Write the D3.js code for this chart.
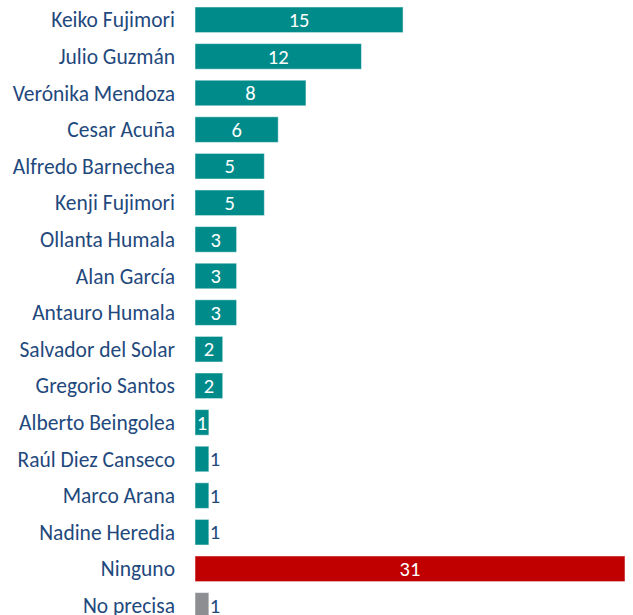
<!DOCTYPE html>
<html>
<head>
<meta charset="utf-8">
<script src="https://cdn.jsdelivr.net/npm/d3@7"></script>
<style>
  body { margin: 0; background: #fff; }
  text { font-family: Carlito, Calibri, "Open Sans", sans-serif; }
</style>
</head>
<body>
<div id="chart"></div>
<script>
var names = ["Keiko Fujimori", "Julio Guzmán", "Verónika Mendoza", "Cesar Acuña", "Alfredo Barnechea",
	"Kenji Fujimori", "Ollanta Humala", "Alan García", "Antauro Humala", "Salvador del Solar",
	"Gregorio Santos", "Alberto Beingolea", "Raúl Diez Canseco", "Marco Arana", "Nadine Heredia",
	"Ninguno", "No precisa"];
var values = [15, 12, 8, 6, 5, 5, 3, 3, 3, 2, 2, 1, 1, 1, 1, 31, 1];
// which value labels sit inside the bar
var insideLabel = [true, true, true, true, true, true, true, true, true, true, true, true, false, false, false, true, false];

var width = 633,
	height = 615,
	barStart = 195;

var teal = "#008b8b",
	red = "#c00000",
	grey = "#8c8e91",
	textColor = "#1f497d";

function barColor(name) {
	if (name == "Ninguno") return red;
	if (name == "No precisa") return grey;
	return teal;
}

var svg = d3.select("#chart")
	.append("svg")
	.attr("width", width)
	.attr("height", height);

var x = d3.scaleLinear().domain([0, 31]).range([barStart, 625]);
var y = d3.scaleBand().domain(names).range([1.5, 623.7]).paddingInner(0.3).paddingOuter(0.15);

var rows = svg.selectAll("g.row")
	.data(names)
	.enter()
	.append("g")
	.attr("class", "row");

rows.append("rect")
	.attr("x", x(0))
	.attr("y", d => y(d))
	.attr("width", (d, i) => x(values[i]) - x(0))
	.attr("height", y.bandwidth())
	.attr("fill", d => barColor(d))
	.attr("stroke", "#ffffff")
	.attr("stroke-opacity", 0.5)
	.attr("stroke-width", 1);

rows.append("text")
	.attr("x", 175)
	.attr("y", d => y(d) + y.bandwidth() / 2)
	.attr("dy", "0.35em")
	.attr("text-anchor", "end")
	.attr("font-size", 21.5)
	.attr("fill", textColor)
	.text(d => d);

rows.append("text")
	.attr("x", (d, i) => insideLabel[i] ? (x(0) + x(values[i])) / 2 : x(values[i]) + 1)
	.attr("y", d => y(d) + y.bandwidth() / 2)
	.attr("dy", "0.35em")
	.attr("text-anchor", (d, i) => insideLabel[i] ? "middle" : "start")
	.attr("font-size", 20.5)
	.attr("fill", (d, i) => insideLabel[i] ? "#ffffff" : textColor)
	.text((d, i) => values[i]);
</script>
</body>
</html>
